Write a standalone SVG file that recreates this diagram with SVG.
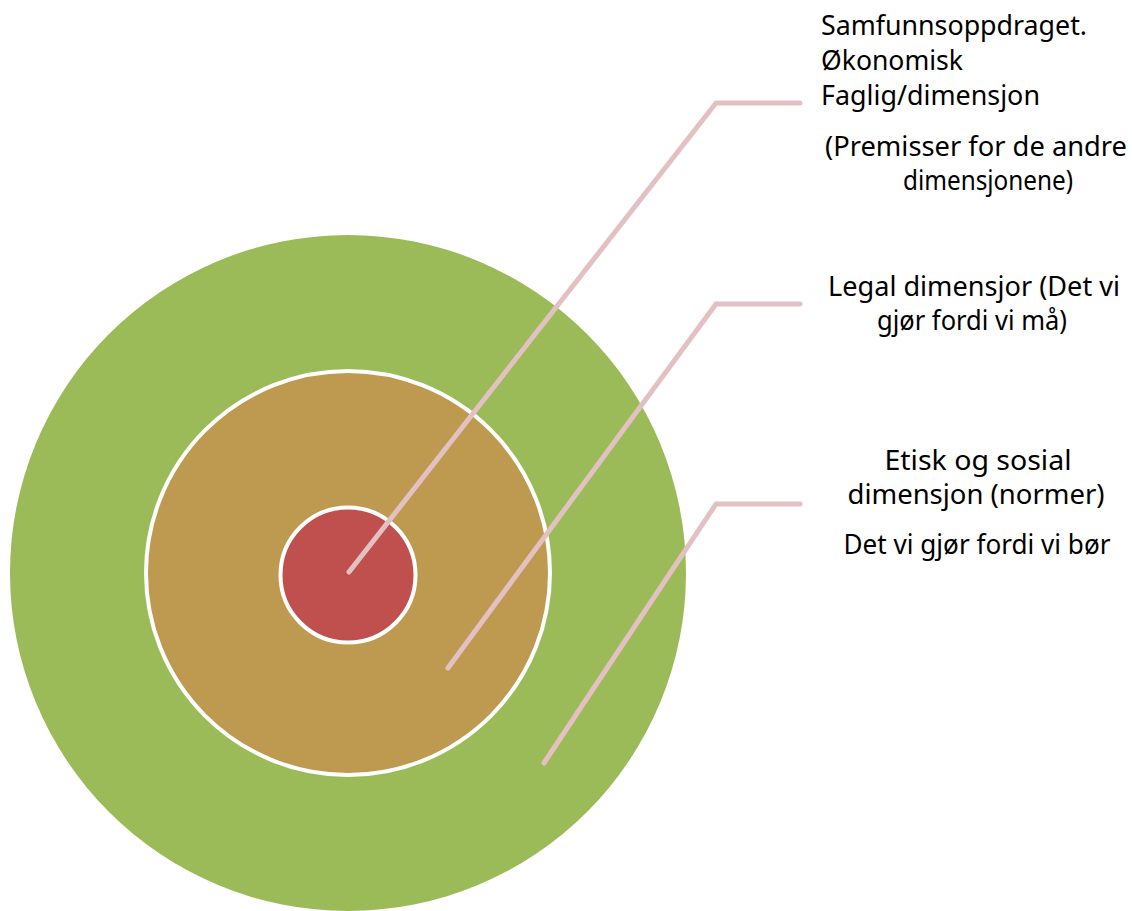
<svg xmlns="http://www.w3.org/2000/svg" width="1132" height="911" viewBox="0 0 1132 911">
  <style>
    .ring { stroke: #FFFFFF; stroke-width: 4; }
    .leader { fill: none; stroke: #E3C1C2; stroke-width: 5; stroke-linecap: round; stroke-linejoin: miter; }
    .label { font-family: "Noto Sans", "Liberation Sans", sans-serif; font-size: 27px; fill: #000000; }
    .mid { text-anchor: middle; }
  </style>
  <rect width="1132" height="911" fill="#FFFFFF"/>

  <!-- concentric dimensions -->
  <g id="outer-ring">
    <circle cx="348" cy="573" r="338" fill="#9BBB59"/>
  </g>
  <g id="middle-ring">
    <circle class="ring" cx="348" cy="573" r="202" fill="#BE9A50"/>
  </g>
  <g id="core">
    <circle class="ring" cx="348" cy="575" r="67.5" fill="#C0504D"/>
  </g>

  <!-- leader lines from each ring to its label -->
  <g id="connectors">
    <polyline class="leader" points="349,572 716,103 800,103"/>
    <polyline class="leader" points="448,668 716,304 800,304"/>
    <polyline class="leader" points="544,763 716,504 800,504"/>
  </g>

  <g id="label-core">
    <text class="label" x="821" y="35" textLength="266" lengthAdjust="spacingAndGlyphs">Samfunnsoppdraget.</text>
    <text class="label" x="821" y="70" textLength="142" lengthAdjust="spacingAndGlyphs">Økonomisk</text>
    <text class="label" x="821" y="105" textLength="219" lengthAdjust="spacingAndGlyphs">Faglig/dimensjon</text>
    <text class="label mid" x="976" y="156" textLength="302" lengthAdjust="spacingAndGlyphs">(Premisser for de andre</text>
    <text class="label mid" x="988" y="190" textLength="170" lengthAdjust="spacingAndGlyphs">dimensjonene)</text>
  </g>

  <g id="label-middle">
    <text class="label mid" x="974" y="296" textLength="292" lengthAdjust="spacingAndGlyphs">Legal dimensjor (Det vi</text>
    <text class="label mid" x="972" y="330" textLength="190" lengthAdjust="spacingAndGlyphs">gjør fordi vi må)</text>
  </g>

  <g id="label-outer">
    <text class="label mid" x="978" y="470" textLength="187" lengthAdjust="spacingAndGlyphs">Etisk og sosial</text>
    <text class="label mid" x="976" y="504" textLength="257" lengthAdjust="spacingAndGlyphs">dimensjon (normer)</text>
    <text class="label mid" x="977" y="554" textLength="267" lengthAdjust="spacingAndGlyphs">Det vi gjør fordi vi bør</text>
  </g>
</svg>
